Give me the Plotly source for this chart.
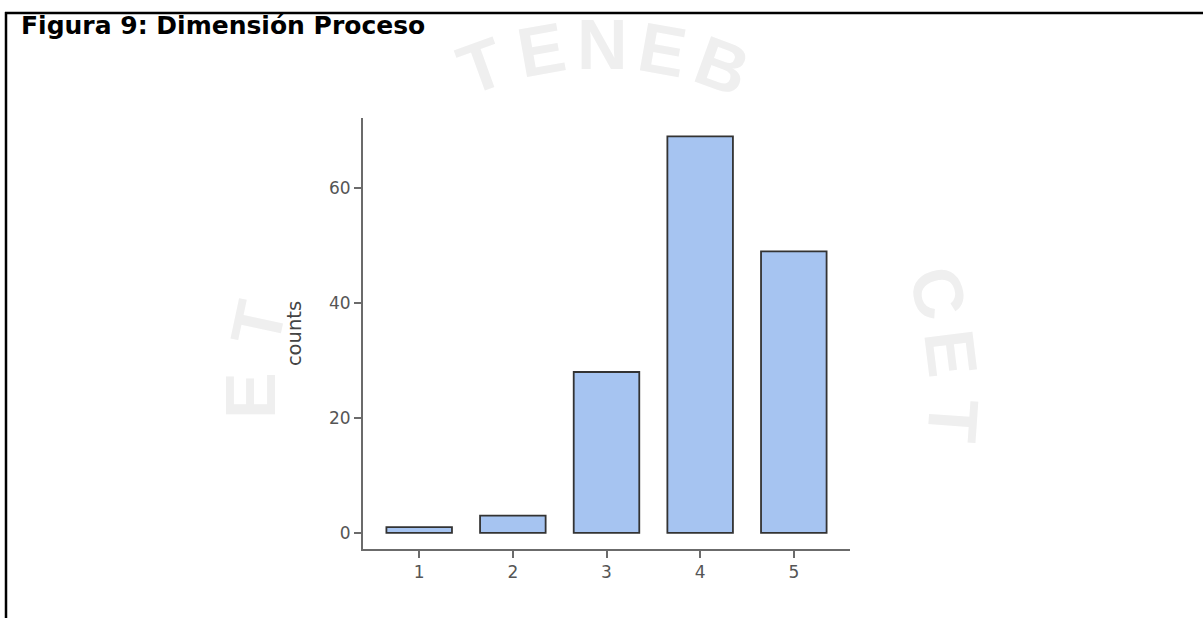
import math
import plotly.graph_objects as go

categories = [1, 2, 3, 4, 5]
counts = [1, 3, 28, 69, 49]
y_ticks = [0, 20, 40, 60]
title_text = "<b>Figura 9: Dimensión Proceso</b>"
axis_title = "counts"

# faint background watermark (seal motto), letters with their angle on the seal ring
wm_letters = ["E", "T", "T", "E", "N", "E", "B", "C", "E", "T"]
wm_angles = [-90, -78, -20, -10, 0, 10, 20, 73, 83, 94]

W, H = 1203, 618
L, R, T, B = 363, 353, 118, 69
pw, ph = W - L - R, H - T - B
FONT = "DejaVu Sans, Liberation Sans, Arial"

def px_x(x):
    return (x - L) / pw

def px_y(y):
    return (H - B - y) / ph

fig = go.Figure(go.Bar(
    x=categories, y=counts, width=0.7,
    marker=dict(color="#a6c4f1", line=dict(color="#333333", width=1.8)),
))

shapes = [
    dict(type="line", xref="paper", yref="paper", x0=px_x(5), x1=px_x(W + 5),
         y0=px_y(13), y1=px_y(13), line=dict(color="black", width=2.5)),
    dict(type="line", xref="paper", yref="paper", x0=px_x(6), x1=px_x(6),
         y0=px_y(12), y1=px_y(H + 5), line=dict(color="black", width=2.5)),
]

# watermark ring
cx, cy, rad = 602, 396, 351
annotations = []
for ch, ang in zip(wm_letters, wm_angles):
    a = math.radians(ang)
    annotations.append(dict(
        text="<b>" + ch + "</b>", xref="paper", yref="paper",
        x=px_x(cx + rad * math.sin(a)), y=px_y(cy - rad * math.cos(a)),
        xanchor="center", yanchor="middle", textangle=ang, showarrow=False,
        font=dict(family="Liberation Sans, Arial", size=70, color="#efefef"),
    ))

fig.update_layout(
    width=W, height=H,
    margin=dict(l=L, r=R, t=T, b=B, pad=0),
    paper_bgcolor="white", plot_bgcolor="rgba(0,0,0,0)",
    showlegend=False,
    shapes=shapes,
    annotations=annotations,
    title=dict(text=title_text, xref="container", yref="container",
               x=21 / W, xanchor="left", y=1 - 25 / H, yanchor="middle",
               font=dict(family=FONT, size=25, color="black")),
    xaxis=dict(range=[0.4, 5.6], tickvals=categories, ticktext=[str(c) for c in categories],
               showline=True, linecolor="#6b6b6b", linewidth=2, mirror=False,
               ticks="outside", ticklen=7, tickwidth=2, tickcolor="#6b6b6b",
               showgrid=False, zeroline=False,
               tickfont=dict(family=FONT, size=17, color="#555555")),
    yaxis=dict(range=[-2.8, 72.2], tickvals=y_ticks,
               showline=True, linecolor="#6b6b6b", linewidth=2,
               ticks="outside", ticklen=7, tickwidth=2, tickcolor="#6b6b6b",
               showgrid=False, zeroline=False,
               title=dict(text=axis_title, standoff=22,
                          font=dict(family=FONT, size=19.5, color="#444444")),
               tickfont=dict(family=FONT, size=17, color="#555555")),
)

fig.write_html("out.html", config={"displayModeBar": False},
               post_script="document.body.style.margin='0';")
